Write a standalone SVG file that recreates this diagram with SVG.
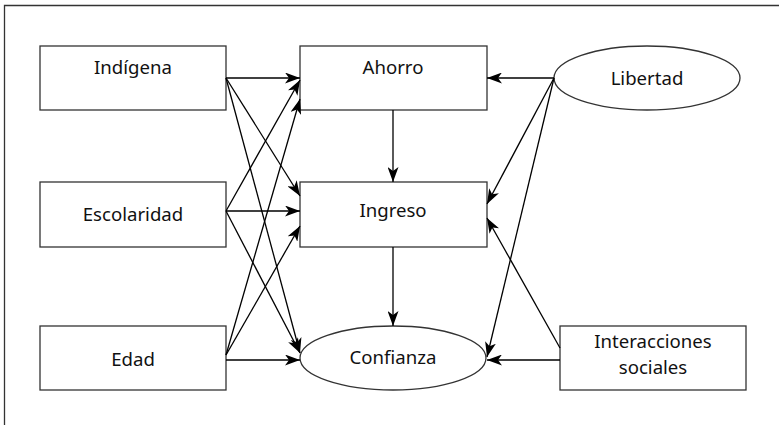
<svg xmlns="http://www.w3.org/2000/svg" width="779" height="425" viewBox="0 0 779 425">
  <defs>
    <marker id="arrow" viewBox="0 0 15 11" refX="15" refY="5.5" markerWidth="15" markerHeight="11" markerUnits="userSpaceOnUse" orient="auto">
      <path d="M0,0 L15,5.5 L0,11 L4,5.5 Z" fill="#000"/>
    </marker>
  </defs>
  <style>
    .node { fill: #fff; stroke: #333; stroke-width: 1.3; }
    .label { font-family: "Noto Sans", "DejaVu Sans", sans-serif; font-size: 18.6px; fill: #111; text-anchor: middle; }
    .edge { stroke: #000; stroke-width: 1.3; fill: none; marker-end: url(#arrow); }
  </style>
  <rect width="779" height="425" fill="#fff"/>
  <!-- frame: only top and left edges fall inside the canvas -->
  <path d="M4.5,440 L4.5,5.5 L790,5.5" fill="none" stroke="#333" stroke-width="1.3"/>

  <g id="indigena">
    <rect class="node" x="40" y="46" width="186" height="64"/>
    <text class="label" x="133" y="74">Indígena</text>
  </g>
  <g id="escolaridad">
    <rect class="node" x="40" y="182" width="186" height="65"/>
    <text class="label" x="133" y="221">Escolaridad</text>
  </g>
  <g id="edad">
    <rect class="node" x="40" y="326" width="186" height="64"/>
    <text class="label" x="133" y="366">Edad</text>
  </g>
  <g id="ahorro">
    <rect class="node" x="300" y="46" width="187" height="64"/>
    <text class="label" x="393" y="74">Ahorro</text>
  </g>
  <g id="ingreso">
    <rect class="node" x="300" y="182" width="187" height="65"/>
    <text class="label" x="393" y="217">Ingreso</text>
  </g>
  <g id="confianza">
    <ellipse class="node" cx="393" cy="358" rx="93" ry="32"/>
    <text class="label" x="393" y="364">Confianza</text>
  </g>
  <g id="libertad">
    <ellipse class="node" cx="647" cy="78" rx="93" ry="32"/>
    <text class="label" x="647" y="85">Libertad</text>
  </g>
  <g id="interacciones">
    <rect class="node" x="560" y="326" width="186" height="64"/>
    <text class="label" x="653" y="348">Interacciones</text>
    <text class="label" x="653" y="374">sociales</text>
  </g>

  <g id="connectors">
    <!-- from Indígena -->
    <line class="edge" x1="226" y1="78" x2="300" y2="78"/>
    <line class="edge" x1="226" y1="78" x2="300" y2="196"/>
    <line class="edge" x1="226" y1="78" x2="300" y2="353"/>
    <!-- from Escolaridad -->
    <line class="edge" x1="226" y1="211" x2="300" y2="80"/>
    <line class="edge" x1="226" y1="211" x2="300" y2="211"/>
    <line class="edge" x1="226" y1="211" x2="300" y2="353"/>
    <!-- from Edad -->
    <line class="edge" x1="226" y1="355" x2="300" y2="99"/>
    <line class="edge" x1="226" y1="355" x2="300" y2="226"/>
    <line class="edge" x1="226" y1="360" x2="300" y2="360"/>
    <!-- chain Ahorro -> Ingreso -> Confianza -->
    <line class="edge" x1="393" y1="110" x2="393" y2="182"/>
    <line class="edge" x1="393" y1="247" x2="393" y2="326"/>
    <!-- from Libertad -->
    <line class="edge" x1="554" y1="78" x2="487" y2="78"/>
    <line class="edge" x1="554" y1="78" x2="487" y2="204"/>
    <line class="edge" x1="554" y1="78" x2="487" y2="357"/>
    <!-- from Interacciones sociales -->
    <line class="edge" x1="560" y1="348" x2="487" y2="218"/>
    <line class="edge" x1="560" y1="360" x2="487" y2="360"/>
  </g>
</svg>
